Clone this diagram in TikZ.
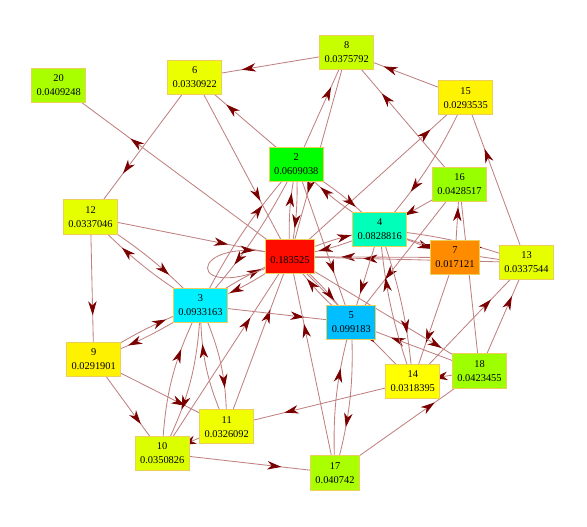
\documentclass[tikz,border=0pt]{standalone}
\usepackage{fontspec}
\setmainfont{Liberation Serif}
\usetikzlibrary{arrows.meta,decorations.markings,backgrounds}
\definecolor{linkline}{RGB}{192,128,128}
\definecolor{linktip}{RGB}{122,0,0}
\definecolor{rankrim}{RGB}{236,206,90}
\definecolor{c1}{RGB}{255,12,0}
\definecolor{c2}{RGB}{0,255,0}
\definecolor{c3}{RGB}{0,240,255}
\definecolor{c4}{RGB}{0,255,185}
\definecolor{c5}{RGB}{0,190,255}
\definecolor{c6}{RGB}{235,255,0}
\definecolor{c7}{RGB}{255,140,0}
\definecolor{c8}{RGB}{200,255,0}
\definecolor{c9}{RGB}{255,242,0}
\definecolor{c10}{RGB}{220,255,0}
\definecolor{c11}{RGB}{239,255,0}
\definecolor{c12}{RGB}{230,255,0}
\definecolor{c13}{RGB}{229,255,0}
\definecolor{c14}{RGB}{255,255,0}
\definecolor{c15}{RGB}{255,244,0}
\definecolor{c16}{RGB}{152,255,0}
\definecolor{c17}{RGB}{170,255,0}
\definecolor{c18}{RGB}{157,255,0}
\definecolor{c20}{RGB}{169,255,0}
\begin{document}
\begin{tikzpicture}[x=0.025cm, y=-0.025cm, every node/.style={font=\fontsize{7.4}{10}\selectfont},
  rank/.style={draw=rankrim, line width=0.6pt, minimum height=24.4pt, inner xsep=3.5pt, inner ysep=2pt, align=center},
  link/.style={draw=linkline, line width=0.6pt, postaction={decorate},
    decoration={markings, mark=at position #1 with {\arrow{Stealth[length=10pt,width=6pt,inset=3pt,color=linktip]}}}},
  link/.default=0.69]
\useasboundingbox (0,0) rectangle (587,527);
% pages
\node[rank, fill=c20] (n20) at (58.7,85.5) {20\\0.0409248};
\node[rank, fill=c6] (n6) at (194.7,77.5) {6\\0.0330922};
\node[rank, fill=c8] (n8) at (346.7,52.3) {8\\0.0375792};
\node[rank, fill=c15] (n15) at (465.7,97.7) {15\\0.0293535};
\node[rank, fill=c2] (n2) at (296.3,164.5) {2\\0.0609038};
\node[rank, fill=c16] (n16) at (459.5,184.5) {16\\0.0428517};
\node[rank, fill=c12] (n12) at (90.5,217) {12\\0.0337046};
\node[rank, fill=c4] (n4) at (379.7,229.5) {4\\0.0828816};
\node[rank, fill=c1] (n1) at (290,256.7) {~\\0.183525};
\node[rank, fill=c7] (n7) at (455,257.5) {7\\0.017121};
\node[rank, fill=c13] (n13) at (526.5,262.5) {13\\0.0337544};
\node[rank, fill=c3] (n3) at (200.5,305.5) {3\\0.0933163};
\node[rank, fill=c5] (n5) at (351.3,322.5) {5\\0.099183};
\node[rank, fill=c9] (n9) at (93.7,359.5) {9\\0.0291901};
\node[rank, fill=c18] (n18) at (479.5,370.8) {18\\0.0423455};
\node[rank, fill=c14] (n14) at (412.8,381.3) {14\\0.0318395};
\node[rank, fill=c11] (n11) at (226.7,426.7) {11\\0.0326092};
\node[rank, fill=c10] (n10) at (162.2,453.3) {10\\0.0350826};
\node[rank, fill=c17] (n17) at (335,473) {17\\0.040742};
% links
\begin{scope}[on background layer]
\draw[link] (n1.center) -- (n20.center);
\draw[link] (n8.center) -- (n6.center);
\draw[link] (n2.center) -- (n6.center);
\draw[link] (n6.center) -- (n12.center);
\draw[link] (n6.center) -- (n1.center);
\draw[link] (n12.center) -- (n1.center);
\draw[link] (n10.center) -- (n1.center);
\draw[link] (n11.center) -- (n1.center);
\draw[link=0.8] (n1.center) -- (n15.center);
\draw[link] (n15.center) to[bend left=8] (n4.center);
\draw[link] (n15.center) -- (n8.center);
\draw[link] (n16.center) -- (n8.center);
\draw[link] (n2.center) -- (n8.center);
\draw[link] (n8.center) -- (n1.center);
\draw[link] (n13.center) -- (n15.center);
\draw[link] (n7.center) -- (n16.center);
\draw[link] (n4.center) -- (n7.center);
\draw[link] (n7.center) -- (n1.center);
\draw[link] (n13.center) -- (n1.center);
\draw[link] (n3.center) -- (n5.center);
\draw[link] (n12.center) -- (n9.center);
\draw[link] (n9.center) -- (n11.center);
\draw[link] (n9.center) -- (n10.center);
\draw[link] (n11.center) -- (n10.center);
\draw[link] (n10.center) -- (n17.center);
\draw[link] (n14.center) -- (n11.center);
\draw[link] (n17.center) -- (n1.center);
\draw[link] (n2.center) -- (n5.center);
\draw[link] (n16.center) -- (n5.center);
\draw[link] (n4.center) -- (n5.center);
\draw[link] (n7.center) -- (n14.center);
\draw[link=0.8] (n1.center) -- (n18.center);
\draw[link] (n18.center) -- (n5.center);
\draw[link] (n18.center) -- (n14.center);
\draw[link] (n14.center) -- (n13.center);
\draw[link] (n18.center) -- (n13.center);
\draw[link] (n17.center) -- (n18.center);
\draw[link] (n18.center) -- (n16.center);
\draw[link] (n16.center) -- (n4.center);
\draw[link] (n1.center) -- (n14.center);
% both ways
\draw[link] (n3.center) to[bend left=7] (n2.center);
\draw[link] (n2.center) to[bend left=7] (n3.center);
\draw[link] (n3.center) to[bend left=7] (n12.center);
\draw[link] (n12.center) to[bend left=7] (n3.center);
\draw[link] (n3.center) to[bend left=7] (n1.center);
\draw[link] (n1.center) to[bend left=7] (n3.center);
\draw[link] (n1.center) to[bend left=7] (n4.center);
\draw[link] (n4.center) to[bend left=7] (n1.center);
\draw[link] (n1.center) to[bend left=7] (n2.center);
\draw[link] (n2.center) to[bend left=7] (n1.center);
\draw[link] (n2.center) to[bend left=7] (n4.center);
\draw[link] (n4.center) to[bend left=7] (n2.center);
\draw[link] (n1.center) to[bend left=7] (n5.center);
\draw[link] (n5.center) to[bend left=7] (n1.center);
\draw[link] (n9.center) to[bend left=6] (n3.center);
\draw[link] (n3.center) to[bend left=6] (n9.center);
\draw[link] (n10.center) to[bend left=12] (n3.center);
\draw[link] (n3.center) to[bend left=12] (n10.center);
\draw[link] (n11.center) to[bend left=12] (n3.center);
\draw[link] (n3.center) to[bend left=12] (n11.center);
\draw[link] (n17.center) to[bend left=9] (n5.center);
\draw[link] (n5.center) to[bend left=9] (n17.center);
\draw[link] (n4.center) to[bend left=7] (n14.center);
\draw[link] (n14.center) to[bend left=7] (n4.center);
\draw[link] (n4.center) to[bend left=7] (n13.center);
\draw[link] (n13.center) to[bend left=7] (n4.center);
\draw[link=0.8] (n1.center) .. controls +(-110,60) and +(-110,-30) .. (n1.center);
\end{scope}
\end{tikzpicture}
\end{document}
